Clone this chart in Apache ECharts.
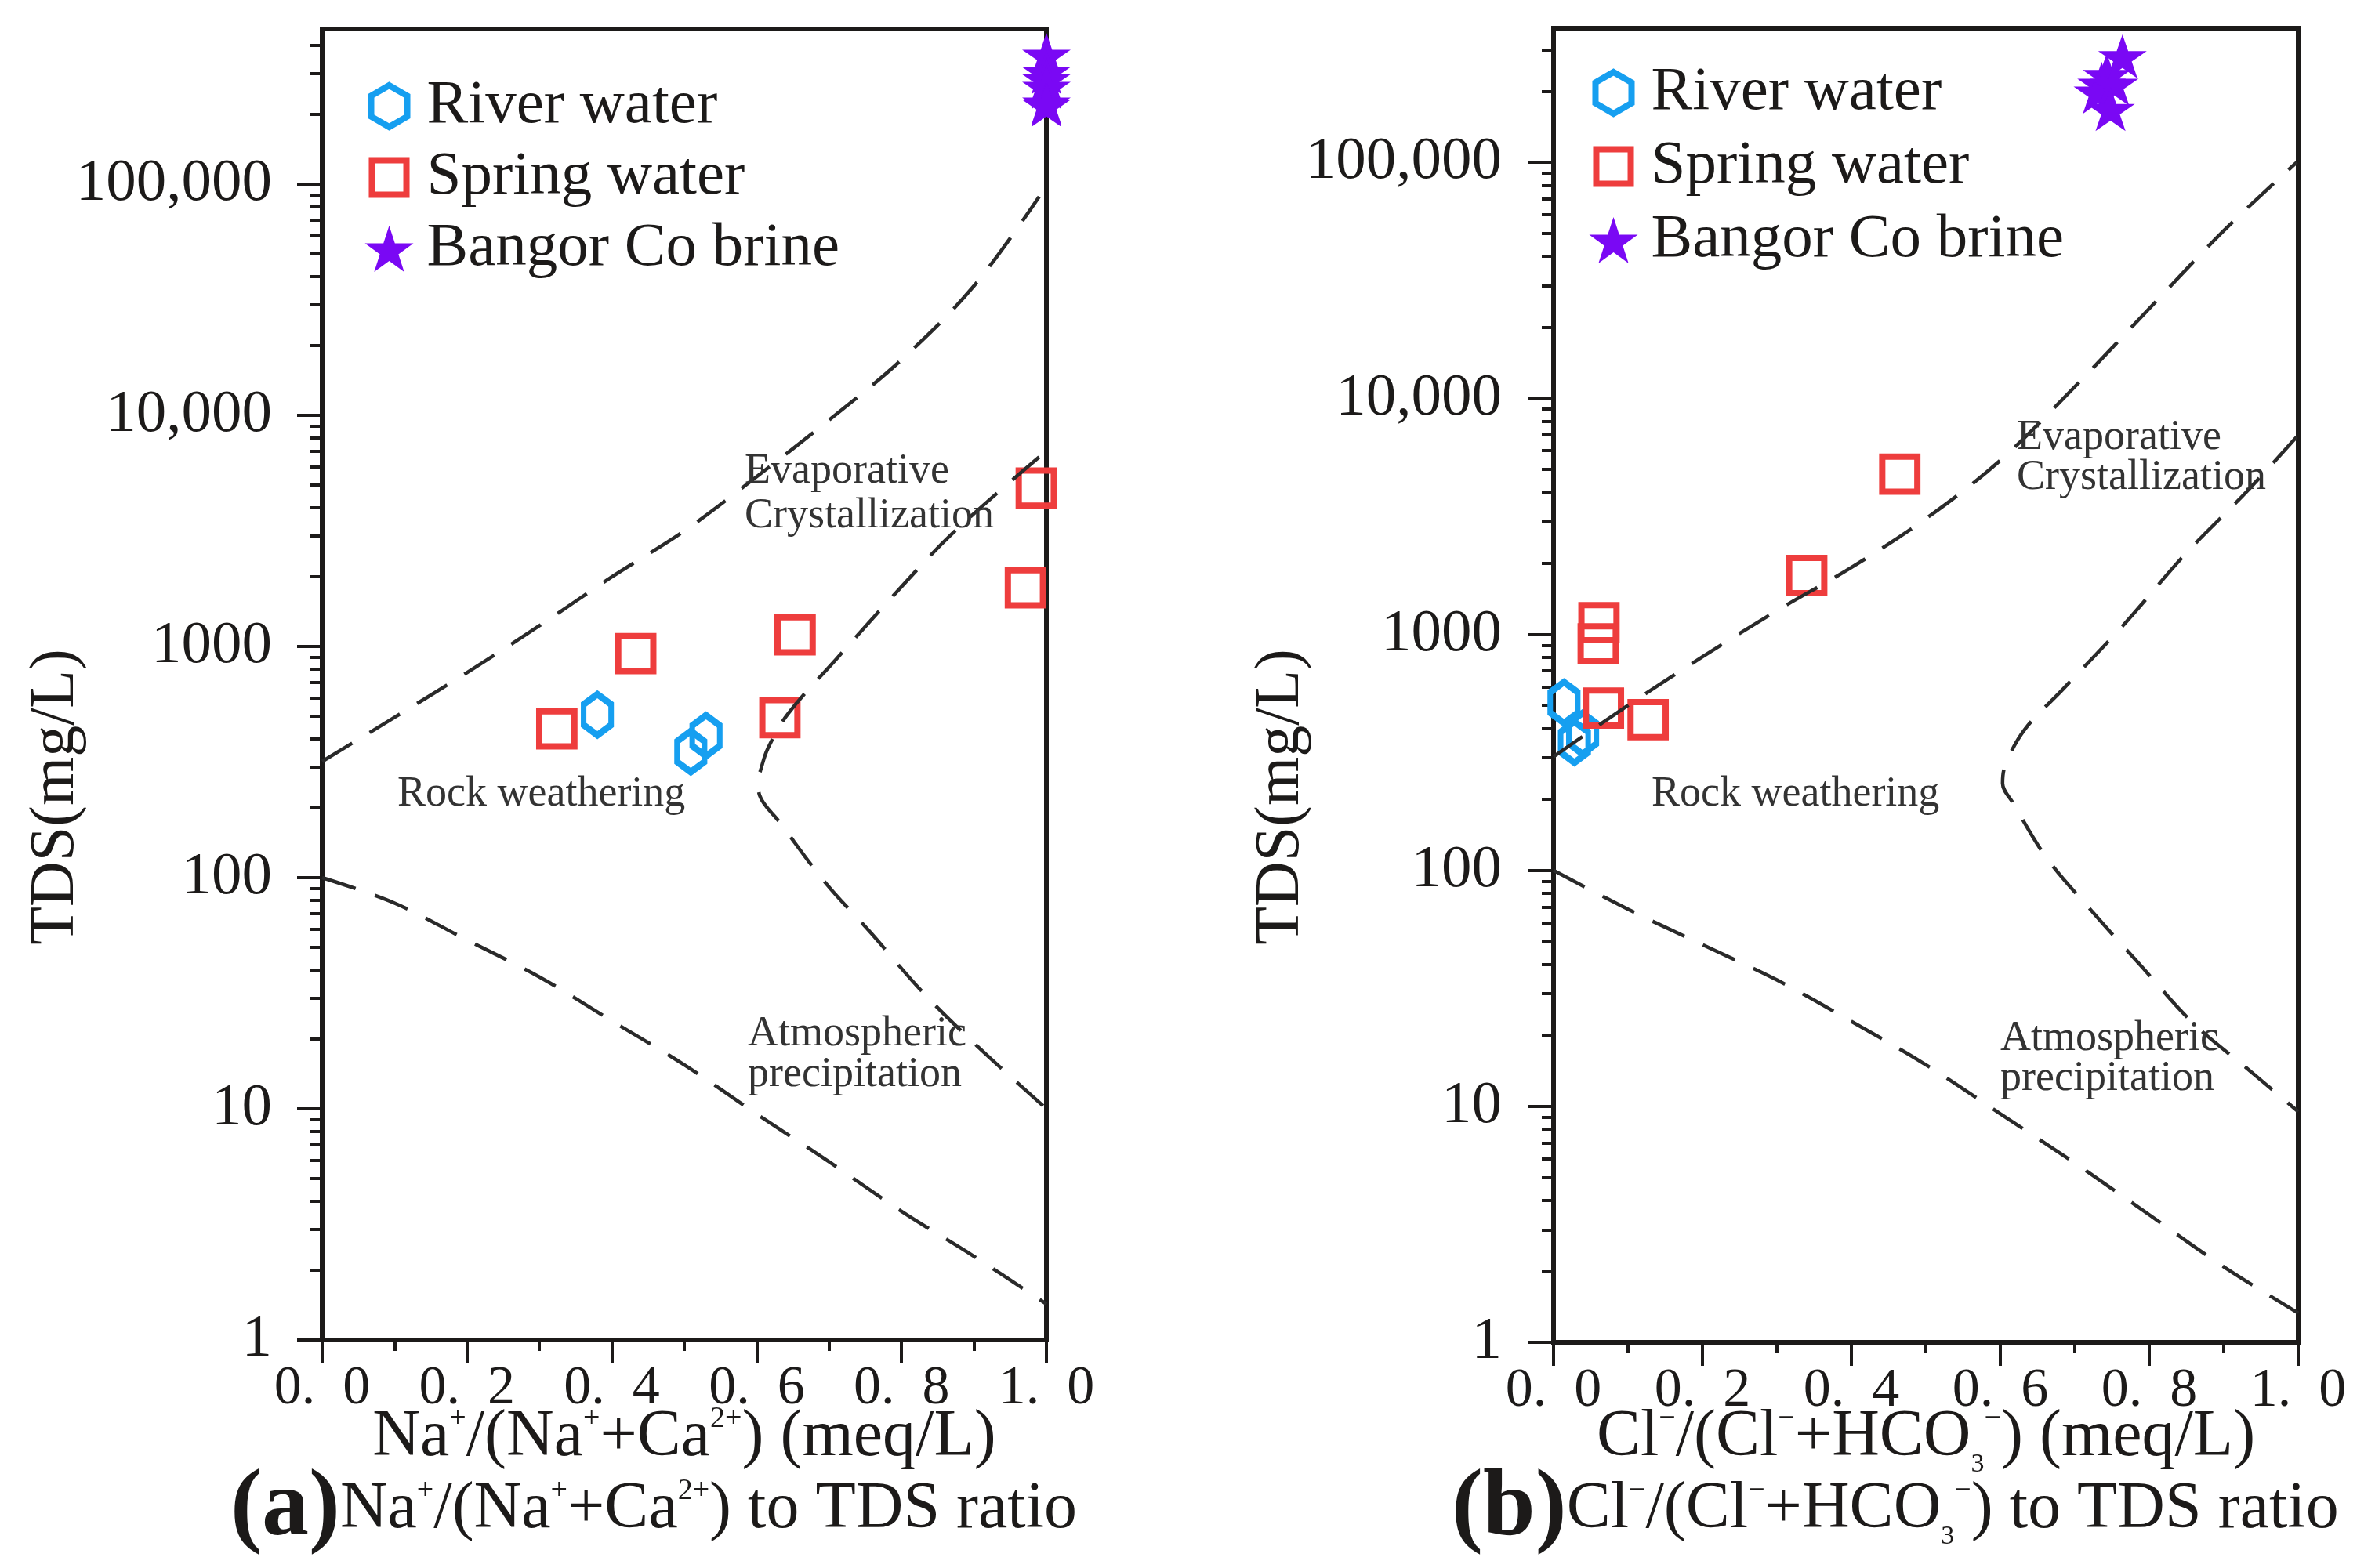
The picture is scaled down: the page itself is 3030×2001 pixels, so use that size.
<!DOCTYPE html>
<html>
<head>
<meta charset="utf-8">
<script src="https://cdn.jsdelivr.net/npm/echarts@6/dist/echarts.min.js"></script>
<style>
html,body{margin:0;padding:0;background:#fff;}
#chart{width:3030px;height:2001px;}
</style>
</head>
<body>
<div id="chart"></div>
<script>
// ---------------- data ----------------
// Panel (a): x = Na+/(Na+ + Ca2+), y = TDS (mg/L)
const riverA  = [[0.380, 507], [0.509, 351], [0.530, 411]];
const springA = [[0.324, 440], [0.433, 932], [0.653, 1124], [0.632, 492], [0.971, 1795], [0.986, 4840]];
const brineA  = [[1.0, 362000], [1.0, 305000], [1.0, 284000], [1.0, 263000], [1.0, 225000], [1.0, 220000]];
// Panel (b): x = Cl-/(Cl- + HCO3-), y = TDS (mg/L)
const riverB  = [[0.014, 514], [0.028, 349], [0.039, 380]];
const springB = [[0.465, 4770], [0.340, 1774], [0.061, 1121], [0.060, 912], [0.067, 487], [0.127, 435]];
const brineB  = [[0.764, 281000], [0.743, 234000], [0.736, 215000], [0.731, 199000], [0.753, 215000], [0.748, 168000]];

// Gibbs boundary curves (dashed)
const upperA = [[0, 318], [0.1, 494], [0.2, 771], [0.3, 1230], [0.4, 2000], [0.5, 3160], [0.6, 5430], [0.7, 9550], [0.8, 17400], [0.9, 36300], [0.99, 88300]];
const rightA = [[0.99, 6600], [0.87, 3080], [0.788, 1650], [0.71, 883], [0.643, 511], [0.615, 360], [0.606, 296], [0.602, 262], [0.604, 227], [0.632, 173], [0.695, 95], [0.757, 58], [0.829, 32], [0.902, 19], [1.0, 10]];
const lowerA = [[0, 100], [0.1, 77.6], [0.2, 53.7], [0.3, 37.2], [0.4, 24], [0.5, 15.5], [0.6, 9.5], [0.7, 5.9], [0.8, 3.6], [0.9, 2.3], [1.0, 1.43]];

const upperB = [[0, 303], [0.1, 500], [0.2, 803], [0.3, 1260], [0.4, 1920], [0.5, 3090], [0.6, 5460], [0.7, 11200], [0.8, 24000], [0.9, 51300], [0.998, 100000]];
const rightB = [[0.998, 6870], [0.931, 4030], [0.848, 2180], [0.766, 1100], [0.684, 585], [0.633, 396], [0.607, 281], [0.603, 234], [0.617, 193], [0.663, 112], [0.725, 66], [0.787, 40], [0.859, 22.5], [0.931, 14.5], [1.0, 9.5]];
const lowerB = [[0, 100], [0.1, 68.4], [0.2, 48.4], [0.3, 34.3], [0.4, 22.9], [0.5, 15], [0.6, 9.3], [0.7, 5.75], [0.8, 3.47], [0.9, 2.09], [1.0, 1.33]];

// axes
const yMajorTicks = [1, 10, 100, 1000, 10000, 100000];
const yMaxA = 469000;
const yMaxB = 370000;
const seriesNames = ['River water', 'Spring water', 'Bangor Co brine'];

// minor log ticks 2..9 x 10^k (tick positions only)
function minorTicks(max) {
  const out = [];
  for (let p = 1; p <= 100000; p *= 10) {
    for (let m = 2; m <= 9; m++) { if (m * p <= max) out.push(m * p); }
  }
  return out;
}

// ---------------- styling ----------------
const FONT = '"Liberation Serif", "Times New Roman", serif';
const INK = '#1c1a19';
const BLUE = '#169FF0';
const RED = '#EE3D3D';
const PURPLE = '#7A08F4';
const DASH = '#2a2a2a';

const HEX = 'path://M0,-1.11 M0,-1 L0.866,-0.5 L0.866,0.5 L0,1 L-0.866,0.5 L-0.866,-0.5 Z M0,1.11';
const SQR = 'path://M-1.34,-1.34 M-1,-1 L1,-1 L1,1 L-1,1 Z M1.34,1.34';
const STAR = 'path://M0,-1 L0.2245,-0.309 L0.9511,-0.309 L0.3633,0.118 L0.5878,0.809 L0,0.382 L-0.5878,0.809 L-0.3633,0.118 L-0.9511,-0.309 L-0.2245,-0.309 Z';

function rich(base, lh, bold) {
  return {
    t: { fontSize: base, lineHeight: lh, fontFamily: FONT, fontWeight: 'normal', color: INK },
    b: { fontSize: bold || 112, lineHeight: lh, fontFamily: FONT, fontWeight: 'bold', color: INK },
    sup: { fontSize: 38, lineHeight: 38, padding: [0, 0, 48, 0], fontFamily: FONT, fontWeight: 'normal', color: INK },
    sub: { fontSize: 34, lineHeight: 34, padding: [68, 0, 0, 0], fontFamily: FONT, fontWeight: 'normal', color: INK }
  };
}

const nameA = '{t|Na}{sup|+}{t|/(Na}{sup|+}{t|+Ca}{sup|2+}{t|) (meq/L)}';
const nameB = '{t|Cl}{sup|\u2212}{t|/(Cl}{sup|\u2212}{t|+HCO}{sub|3}{sup|\u2212}{t|) (meq/L)}';
const capA = '{b|(a)}{t|Na}{sup|+}{t|/(Na}{sup|+}{t|+Ca}{sup|2+}{t|) to TDS ratio}';
const capB = '{b|(b)}{t|Cl}{sup|\u2212}{t|/(Cl}{sup|\u2212}{t|+HCO}{sub|3}{sup|\u2212}{t|) to TDS ratio}';

function xAxis(gi, name, gap) {
  return {
    type: 'value', gridIndex: gi, min: 0, max: 1, interval: 0.2,
    name: name, nameLocation: 'middle', nameGap: gap, nameMoveOverlap: false,
    nameTextStyle: { fontWeight: 'normal', rich: rich(84, 104) },
    axisLine: { show: true, onZero: false, lineStyle: { color: INK, width: 6 } },
    axisTick: { show: true, inside: false, length: 30, lineStyle: { color: INK, width: 4 } },
    minorTick: { show: true, splitNumber: 2, length: 14, lineStyle: { color: INK, width: 4 } },
    axisLabel: {
      margin: 28, fontSize: 70, fontFamily: FONT, color: INK,
      formatter: v => v.toFixed(1).replace('.', '.  ')
    },
    splitLine: { show: false }, minorSplitLine: { show: false }
  };
}

function yMajor(gi, max, margin) {
  return {
    type: 'log', logBase: 10, gridIndex: gi, min: 1, max: max, position: 'left',
    axisLine: { show: true, onZero: false, lineStyle: { color: INK, width: 6 } },
    axisTick: { show: true, inside: false, length: 32, customValues: yMajorTicks, lineStyle: { color: INK, width: 4 } },
    axisLabel: {
      show: true, margin: margin, fontSize: 77, fontFamily: FONT, color: INK,
      customValues: yMajorTicks,
      formatter: v => (v >= 10000 ? Number(v).toLocaleString('en-US') : String(Math.round(v)))
    },
    splitLine: { show: false }
  };
}

function yMinor(gi, max) {
  return {
    type: 'log', logBase: 10, gridIndex: gi, min: 1, max: max, position: 'left', offset: 0,
    axisLine: { show: false },
    axisTick: { show: true, inside: false, length: 15, customValues: minorTicks(max), lineStyle: { color: INK, width: 4 } },
    axisLabel: { show: false },
    splitLine: { show: false }
  };
}

function scatterSet(xi, yi, river, spring, brine) {
  return [
    { name: seriesNames[0], type: 'scatter', xAxisIndex: xi, yAxisIndex: yi, data: river,
      symbol: HEX, symbolSize: [45, 58], symbolKeepAspect: true, z: 3,
      itemStyle: { color: 'rgba(0,0,0,0)', borderColor: BLUE, borderWidth: 8, opacity: 1 } },
    { name: seriesNames[1], type: 'scatter', xAxisIndex: xi, yAxisIndex: yi, data: spring,
      symbol: SQR, symbolSize: 60, symbolKeepAspect: true, z: 3,
      itemStyle: { color: 'rgba(0,0,0,0)', borderColor: RED, borderWidth: 8, opacity: 1 } },
    { name: seriesNames[2], type: 'scatter', xAxisIndex: xi, yAxisIndex: yi, data: brine,
      symbol: STAR, symbolSize: [62, 59], symbolKeepAspect: true, z: 3,
      itemStyle: { color: PURPLE, borderWidth: 0, opacity: 1 } }
  ];
}

function curve(name, xi, yi, data) {
  return {
    name: name, type: 'line', xAxisIndex: xi, yAxisIndex: yi, data: data,
    showSymbol: false, symbol: 'none', smooth: 0.35, silent: true, z: 4,
    lineStyle: { color: DASH, width: 4.5, type: [45, 26], cap: 'butt' }
  };
}

function legend(left, top, gap) {
  return {
    orient: 'vertical', left: left, top: top, padding: 0,
    itemWidth: 62, itemHeight: 59, itemGap: gap, symbolKeepAspect: true,
    selectedMode: false,
    textStyle: { fontSize: 79, fontFamily: FONT, color: INK, padding: [0, 0, 0, 12] },
    data: [
      { name: seriesNames[0], itemStyle: { borderWidth: 8, opacity: 1 } },
      { name: seriesNames[1], itemStyle: { borderWidth: 8, opacity: 1 } },
      { name: seriesNames[2], itemStyle: { borderWidth: 0, opacity: 1 } }
    ]
  };
}

function note(text, x, y) {
  return { type: 'text', x: x, y: y, silent: true, z: 10,
    style: { text: text, fontSize: 54, fontFamily: FONT, fill: '#333', align: 'left', verticalAlign: 'middle' } };
}

const option = {
  animation: false,
  backgroundColor: '#ffffff',
  title: [
    { text: capA, left: 294, top: 1871, padding: 0, textStyle: { fontWeight: 'normal', rich: rich(84, 112, 120) } },
    { text: capB, left: 1852, top: 1871, padding: 0, textStyle: { fontWeight: 'normal', rich: rich(84, 112, 120) } }
  ],
  legend: [legend(463, 96, 12), legend(2025, 79, 15)],
  grid: [
    { left: 411, top: 37, width: 924, height: 1673, show: true, borderColor: INK, borderWidth: 6, backgroundColor: 'rgba(0,0,0,0)', containLabel: false, outerBoundsMode: 'none' },
    { left: 1982, top: 36, width: 950, height: 1677, show: true, borderColor: INK, borderWidth: 6, backgroundColor: 'rgba(0,0,0,0)', containLabel: false, outerBoundsMode: 'none' }
  ],
  xAxis: [xAxis(0, nameA, 73), xAxis(1, nameB, 70)],
  yAxis: [yMajor(0, yMaxA, 64), yMinor(0, yMaxA), yMajor(1, yMaxB, 66), yMinor(1, yMaxB)],
  series: [].concat(
    scatterSet(0, 0, riverA, springA, brineA),
    [curve('upper A', 0, 0, upperA), curve('right A', 0, 0, rightA), curve('lower A', 0, 0, lowerA)],
    scatterSet(1, 2, riverB, springB, brineB),
    [curve('upper B', 1, 2, upperB), curve('right B', 1, 2, rightB), curve('lower B', 1, 2, lowerB)]
  ),
  graphic: [
    { type: 'text', x: 72, y: 1017, rotation: Math.PI / 2, silent: true,
      style: { text: 'TDS(mg/L)', fontSize: 80, fontFamily: FONT, fill: INK, align: 'center', verticalAlign: 'middle' } },
    { type: 'text', x: 1635, y: 1017, rotation: Math.PI / 2, silent: true,
      style: { text: 'TDS(mg/L)', fontSize: 80, fontFamily: FONT, fill: INK, align: 'center', verticalAlign: 'middle' } },
    note('Evaporative', 950, 602), note('Crystallization', 950, 659),
    note('Rock weathering', 507, 1014),
    note('Atmospheric', 954, 1320), note('precipitation', 954, 1372),
    note('Evaporative', 2573, 559), note('Crystallization', 2573, 610),
    note('Rock weathering', 2107, 1014),
    note('Atmospheric', 2552, 1326), note('precipitation', 2552, 1377)
  ]
};

const chart = echarts.init(document.getElementById('chart'), null, { renderer: 'canvas', width: 3030, height: 2001 });
chart.setOption(option);
</script>
</body>
</html>
